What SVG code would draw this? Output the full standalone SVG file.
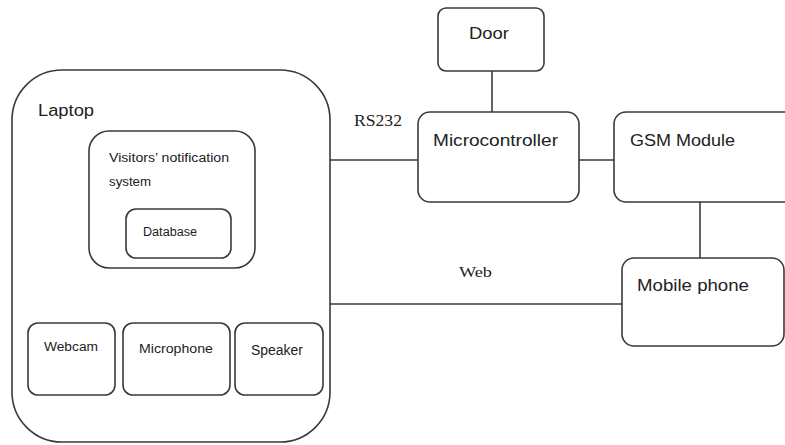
<svg xmlns="http://www.w3.org/2000/svg" width="785" height="445" viewBox="0 0 785 445">
  <style>
    .box { fill: #ffffff; stroke: #3a3a3a; stroke-width: 1.6; }
    .wire { stroke: #3a3a3a; stroke-width: 1.6; fill: none; }
    .lbl { font-family: "Liberation Sans", "Open Sans", sans-serif; fill: #222; }
    .serif { font-family: "Liberation Serif", serif; fill: #222; }
  </style>
  <rect width="785" height="445" fill="#ffffff"/>

  <g id="connectors">
    <line class="wire" x1="330" y1="160" x2="418" y2="160"/>
    <line class="wire" x1="492" y1="71" x2="492" y2="112"/>
    <line class="wire" x1="579" y1="160" x2="614" y2="160"/>
    <line class="wire" x1="700" y1="202" x2="700" y2="258"/>
    <line class="wire" x1="330" y1="304" x2="622" y2="304"/>
    <text class="serif" x="354" y="126" font-size="16" textLength="48" lengthAdjust="spacingAndGlyphs">RS232</text>
    <text class="serif" x="459" y="277" font-size="15" textLength="33" lengthAdjust="spacingAndGlyphs">Web</text>
  </g>

  <g id="laptop">
    <rect class="box" x="12" y="70" width="318" height="372" rx="50" ry="50"/>
    <text class="lbl" x="38" y="116" font-size="16" textLength="56" lengthAdjust="spacingAndGlyphs">Laptop</text>
  </g>

  <g id="visitors-system">
    <rect class="box" x="89" y="131" width="166" height="137" rx="20" ry="20"/>
    <text class="lbl" x="109" y="162" font-size="12" textLength="120" lengthAdjust="spacingAndGlyphs">Visitors’ notification</text>
    <text class="lbl" x="109" y="186" font-size="12" textLength="42" lengthAdjust="spacingAndGlyphs">system</text>
  </g>

  <g id="database">
    <rect class="box" x="126" y="209" width="105" height="49" rx="10" ry="10"/>
    <text class="lbl" x="143" y="236" font-size="12" textLength="54" lengthAdjust="spacingAndGlyphs">Database</text>
  </g>

  <g id="webcam">
    <rect class="box" x="28" y="323" width="87" height="72" rx="10" ry="10"/>
    <text class="lbl" x="44" y="351" font-size="12" textLength="54" lengthAdjust="spacingAndGlyphs">Webcam</text>
  </g>

  <g id="microphone">
    <rect class="box" x="123" y="323" width="107" height="72" rx="10" ry="10"/>
    <text class="lbl" x="139" y="353" font-size="12" textLength="74" lengthAdjust="spacingAndGlyphs">Microphone</text>
  </g>

  <g id="speaker">
    <rect class="box" x="235" y="323" width="88" height="72" rx="10" ry="10"/>
    <text class="lbl" x="251" y="355" font-size="14" textLength="52" lengthAdjust="spacingAndGlyphs">Speaker</text>
  </g>

  <g id="door">
    <rect class="box" x="438" y="8" width="106" height="63" rx="8" ry="8"/>
    <text class="lbl" x="469" y="39" font-size="16" textLength="40" lengthAdjust="spacingAndGlyphs">Door</text>
  </g>

  <g id="microcontroller">
    <rect class="box" x="418" y="112" width="161" height="90" rx="12" ry="12"/>
    <text class="lbl" x="433" y="146" font-size="16" textLength="125" lengthAdjust="spacingAndGlyphs">Microcontroller</text>
  </g>

  <g id="gsm-module">
    <rect class="box" x="614" y="112" width="190" height="90" rx="12" ry="12"/>
    <text class="lbl" x="630" y="146" font-size="16" textLength="105" lengthAdjust="spacingAndGlyphs">GSM Module</text>
  </g>

  <g id="mobile-phone">
    <rect class="box" x="622" y="258" width="162" height="88" rx="12" ry="12"/>
    <text class="lbl" x="637" y="291" font-size="16" textLength="112" lengthAdjust="spacingAndGlyphs">Mobile phone</text>
  </g>
</svg>
